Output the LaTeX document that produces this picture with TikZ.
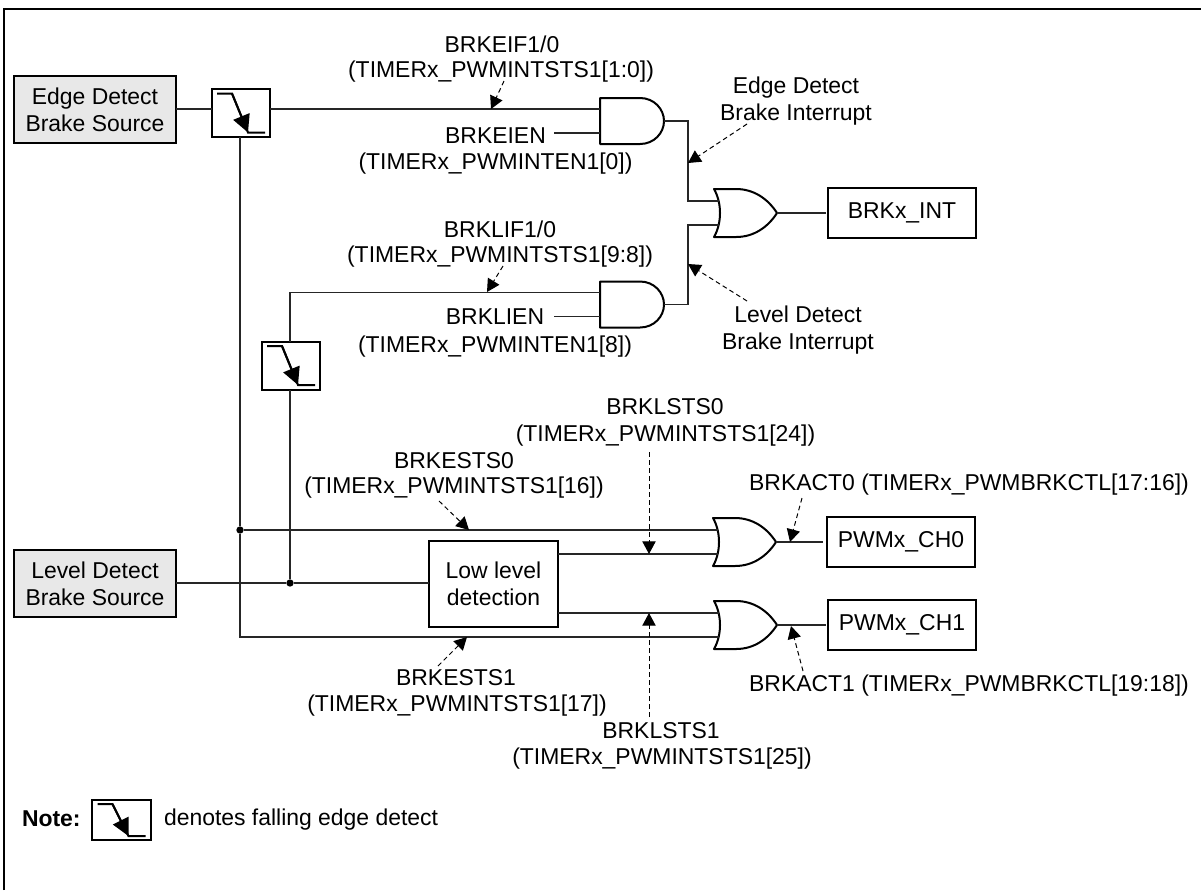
\documentclass[tikz,border=0pt]{standalone}
\usepackage{fontspec}
\setmainfont{Liberation Sans}
\usetikzlibrary{arrows.meta}
\definecolor{srcfill}{HTML}{E8E8E8}
\tikzset{
  x=0.75pt,y=-0.75pt,
  every node/.style={inner sep=0pt,outer sep=0pt,font=\fontsize{17.2pt}{20.3pt}\selectfont,align=center},
  wire/.style={line width=1pt,draw=black!85},
  gateline/.style={line width=1.5pt,draw=black,fill=white,line join=round},
  boxnode/.style={draw=black,line width=1.5pt,fill=white,anchor=center},
  srcbox/.style={boxnode,fill=srcfill,minimum width=121.5pt,minimum height=50pt},
  outbox/.style={boxnode,minimum width=111pt,minimum height=37.5pt},
  fallbox/.style={boxnode,minimum width=44pt,minimum height=36pt},
  lowbox/.style={boxnode,minimum width=96.5pt,minimum height=64pt},
  dotnode/.style={circle,fill=black,minimum size=5.5pt},
  callout/.style={line width=0.75pt,draw=black,dashed,dash pattern=on 3.5pt off 2.5pt,-{Triangle[length=9.5pt,width=10pt]}},
  pics/andgate/.style={code={
    \draw[gateline] (-32,-23) -- (8,-23) .. controls (22,-23) and (32,-12) .. (32,0) .. controls (32,12) and (22,23) .. (8,23) -- (-32,23) -- cycle;
    \coordinate (-a) at (-32,-12);
    \coordinate (-b) at (-32,12);
    \coordinate (-o) at (32,0);
  }},
  pics/orgate/.style={code={
    \draw[gateline] (-32,-24) -- (-10,-24) .. controls (8,-24) and (22,-14) .. (31,0) .. controls (22,14) and (8,24) .. (-10,24) -- (-32,24) .. controls (-24,10) and (-24,-10) .. (-32,-24) -- cycle;
    \coordinate (-a) at (-27,-12);
    \coordinate (-b) at (-27,12);
    \coordinate (-o) at (31,0);
  }},
  pics/fallsym/.style={code={
    \draw[line width=1.5pt] (-24,-#1) -- (-9,-#1) -- (7,#1) -- (24,#1);
    \draw[line width=1.5pt,-{Triangle[length=13pt,width=13pt]}] (-9,-#1) -- (7,#1);
  }},
}
\begin{document}
\begin{tikzpicture}
\useasboundingbox (0,0) rectangle (1201,890);
\draw[line width=2pt] (4,890) -- (4,9) -- (1201,9);

% sources and boxes
\node[srcbox] (edgesrc) at (95,109.5) {Edge Detect\\Brake Source};
\node[srcbox] (levelsrc) at (95,583.5) {Level Detect\\Brake Source};
\node[fallbox] (fall1) at (241,113) {};
\node[fallbox] (fall2) at (291,365.5) {};
\node[lowbox] (low) at (493.5,584) {Low level\\detection};
\node[outbox] (brkint) at (902,213) {BRKx\_INT};
\node[outbox] (ch0) at (901,542) {PWMx\_CH0};
\node[outbox] (ch1) at (902,625) {PWMx\_CH1};
\node[boxnode,minimum width=44pt,minimum height=30pt] (fallnote) at (121.5,820) {};

% gates
\pic (and1) at (632,121) {andgate};
\pic (and2) at (632,304.5) {andgate};
\pic (or1) at (746,213) {orgate};
\pic (or2) at (745,542) {orgate};
\pic (or3) at (746,625) {orgate};

% falling-edge symbols
\pic at (fall1.center) {fallsym=19.5};
\pic at (fall2.center) {fallsym=19.5};
\pic at (fallnote.center) {fallsym=16};

% junctions
\node[dotnode] (j1) at (240,530) {};
\node[dotnode] (j2) at (290,583) {};
\coordinate (c1) at (240,637);
\coordinate (c2) at (290,292.5);
\coordinate (bus) at (688,213);
\coordinate (ein) at (554,133);
\coordinate (lin) at (554,316.5);

% wires
\draw[wire] (edgesrc.east |- 0,109) -- (fall1.west |- 0,109);
\draw[wire] (fall1.east |- 0,109) -- (and1-a);
\draw[wire] (ein) -- (and1-b);
\draw[wire] (lin) -- (and2-b);
\draw[wire] (j1 |- fall1.south) -- (j1) -- (c1) -- (or3-b);
\draw[wire] (j1) -- (or2-a);
\draw[wire] (levelsrc.east |- j2) -- (j2) -- (low.west |- j2);
\draw[wire] (j2) -- (j2 |- fall2.south);
\draw[wire] (c2 |- fall2.north) -- (c2) -- (and2-a);
\draw[wire] (low.east |- or2-b) -- (or2-b);
\draw[wire] (low.east |- or3-a) -- (or3-a);
\draw[wire] (and1-o) -| (bus |- or1-a) -- (or1-a);
\draw[wire] (and2-o) -| (bus |- or1-b) -- (or1-b);
\draw[wire,shorten >=1.5pt] (or1-o) -- (brkint.west);
\draw[wire,shorten >=3pt] (or2-o) -- (ch0.west);
\draw[wire,shorten >=1.5pt] (or3-o) -- (ch1.west);

% labels
\node (leif) at (502,44) {BRKEIF1/0};
\node (leifb) at (501,72) {(TIMERx\_PWMINTSTS1[1:0])};
\node (leien) at (495.5,136) {BRKEIEN};
\node (leienb) at (495.5,164) {(TIMERx\_PWMINTEN1[0])};
\node (llif) at (500,229) {BRKLIF1/0};
\node (llifb) at (500,257) {(TIMERx\_PWMINTSTS1[9:8])};
\node (llien) at (495,317) {BRKLIEN};
\node (llienb) at (495,347) {(TIMERx\_PWMINTEN1[8])};
\node (ledge) at (796,101) {Edge Detect\\Brake Interrupt};
\node (llevel) at (798,330.5) {Level Detect\\Brake Interrupt};
\node (llsts0) at (665,407) {BRKLSTS0};
\node (llsts0b) at (665.5,436) {(TIMERx\_PWMINTSTS1[24])};
\node (lests0) at (454,461) {BRKESTS0};
\node (lests0b) at (454,488) {(TIMERx\_PWMINTSTS1[16])};
\node (lact0) at (969,485) {BRKACT0 (TIMERx\_PWMBRKCTL[17:16])};
\node (lact1) at (969,686) {BRKACT1 (TIMERx\_PWMBRKCTL[19:18])};
\node (lests1) at (456,678) {BRKESTS1};
\node (lests1b) at (457,706) {(TIMERx\_PWMINTSTS1[17])};
\node (llsts1) at (661,731) {BRKLSTS1};
\node (llsts1b) at (662,759) {(TIMERx\_PWMINTSTS1[25])};
\node[anchor=west] (lnote) at (22,819) {\bfseries Note:};
\node[anchor=west] (ldenote) at (164,820) {denotes falling edge detect};

% callouts
\coordinate (s1) at (504,81); \coordinate (t1) at (491,109);
\coordinate (s2) at (503,266); \coordinate (t2) at (487,292);
\coordinate (s3) at (747,124); \coordinate (t3) at (688,163);
\coordinate (s4) at (747,301); \coordinate (t4) at (688,264);
\coordinate (s5) at (649,452); \coordinate (t5) at (649,554);
\coordinate (s6) at (649,717); \coordinate (t6) at (649,613);
\coordinate (s7) at (439,501); \coordinate (t7) at (469,530);
\coordinate (s8) at (438,666); \coordinate (t8) at (467,637);
\coordinate (s9) at (802,498); \coordinate (t9) at (790,542);
\coordinate (s10) at (803,671); \coordinate (t10) at (791,626);
\foreach \i in {1,...,10}{\draw[callout] (s\i) -- (t\i);}
\end{tikzpicture}
\end{document}
